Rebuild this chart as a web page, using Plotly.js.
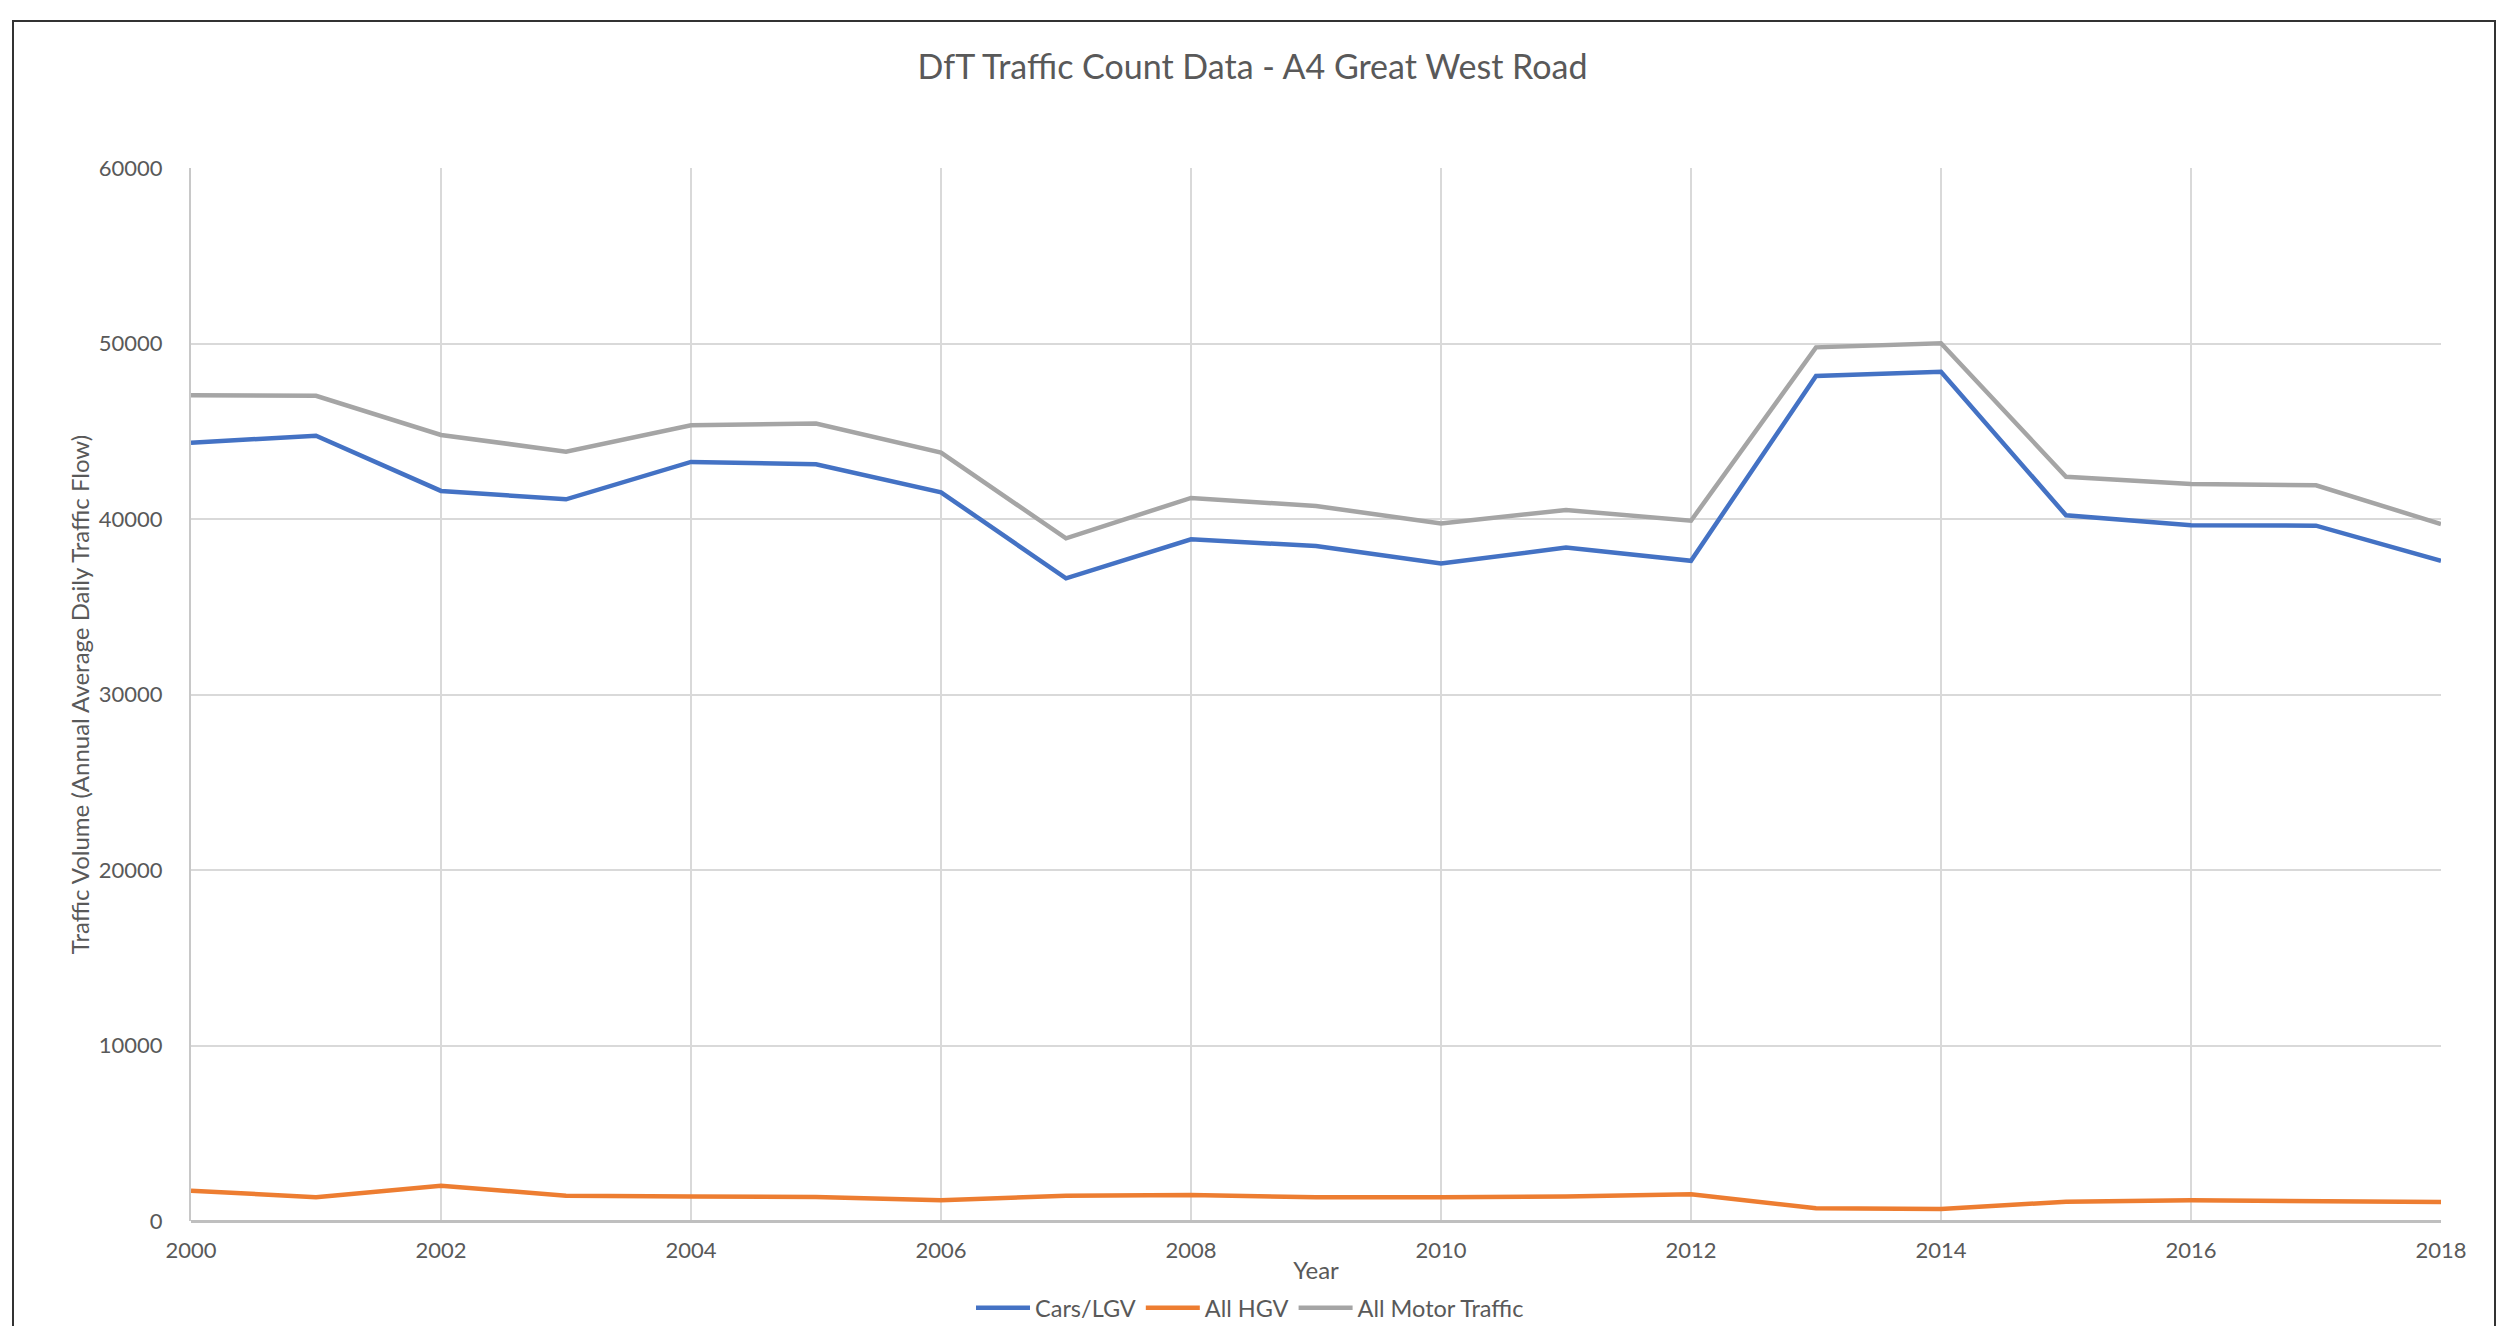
<!DOCTYPE html>
<html>
<head>
<meta charset="utf-8">
<script src="https://cdn.plot.ly/plotly-3.0.1.min.js"></script>
<style>
  html, body { margin: 0; padding: 0; background: #ffffff; }
  #chart { width: 2500px; height: 1326px; }
  #frame { position: absolute; left: 12px; top: 20px; width: 2484px; height: 1330px;
           border: 2px solid #333333; pointer-events: none; box-sizing: border-box; }
</style>
</head>
<body>
<div id="chart"></div>
<div id="frame"></div>
<script>
const years = [2000, 2001, 2002, 2003, 2004, 2005, 2006, 2007, 2008, 2009,
               2010, 2011, 2012, 2013, 2014, 2015, 2016, 2017, 2018];
const carsLGV = [44350, 44740, 41600, 41120, 43250, 43120, 41520, 36620, 38840, 38460,
                 37470, 38370, 37620, 48150, 48390, 40210, 39640, 39620, 37620];
const allHGV = [1730, 1350, 2010, 1440, 1400, 1370, 1180, 1440, 1480, 1350,
                1350, 1390, 1520, 720, 680, 1100, 1180, 1140, 1080];
const allMotor = [47050, 47020, 44790, 43840, 45340, 45440, 43780, 38900, 41200, 40740,
                  39750, 40510, 39900, 49780, 50010, 42410, 42000, 41920, 39710];
const seriesNames = ['Cars/LGV', 'All HGV', 'All Motor Traffic'];
const seriesColors = ['#4472C4', '#ED7D31', '#A5A5A5'];
const yTicks = [0, 10000, 20000, 30000, 40000, 50000, 60000];
const xTicks = [2000, 2002, 2004, 2006, 2008, 2010, 2012, 2014, 2016, 2018];

const FONT = 'Lato, "Open Sans", sans-serif';
const TXT = '#595959';

const seriesData = [carsLGV, allHGV, allMotor];
const traces = seriesData.map((vals, i) => ({
  x: years, y: vals, type: 'scatter', mode: 'lines', name: seriesNames[i],
  line: { color: seriesColors[i], width: 4.5 }
}));

const layout = {
  width: 2500, height: 1326,
  paper_bgcolor: '#ffffff', plot_bgcolor: '#ffffff',
  margin: { l: 191, r: 59, t: 168, b: 105 },
  font: { family: FONT, color: TXT, size: 22 },
  title: {
    text: 'DfT Traffic Count Data - A4 Great West Road',
    font: { family: FONT, size: 34, color: TXT },
    x: 0.501, xref: 'container', xanchor: 'center',
    y: 1 - 67 / 1326, yref: 'container', yanchor: 'middle'
  },
  xaxis: {
    range: [2000, 2018], tickvals: xTicks, ticktext: xTicks.map(String),
    showgrid: true, gridcolor: '#d9d9d9', gridwidth: 1.5,
    showline: false, zeroline: false, ticks: '',
    tickfont: { family: FONT, size: 22, color: TXT },
    ticklabelstandoff: 14,
    title: { text: 'Year', font: { family: FONT, size: 24, color: TXT }, standoff: 0 }
  },
  yaxis: {
    range: [0, 60000], tickvals: yTicks, ticktext: yTicks.map(String),
    showgrid: true, gridcolor: '#d9d9d9', gridwidth: 2,
    showline: true, linecolor: '#c8c8c8', linewidth: 2,
    zeroline: true, zerolinecolor: '#bfbfbf', zerolinewidth: 3, ticks: '',
    tickfont: { family: FONT, size: 22, color: TXT },
    ticklabelstandoff: 22,
    title: { text: 'Traffic Volume (Annual Average Daily Traffic Flow)',
             font: { family: FONT, size: 24, color: TXT }, standoff: 2 }
  },
  showlegend: true,
  legend: {
    orientation: 'h', x: 0.5, xref: 'container', xanchor: 'center',
    y: 1 - 1308 / 1326, yref: 'container', yanchor: 'middle',
    font: { family: FONT, size: 23.5, color: TXT },
    itemwidth: 54, tracegroupgap: 0, bgcolor: 'rgba(0,0,0,0)'
  }
};

Plotly.newPlot('chart', traces, layout, { displayModeBar: false, staticPlot: true });
</script>
</body>
</html>
